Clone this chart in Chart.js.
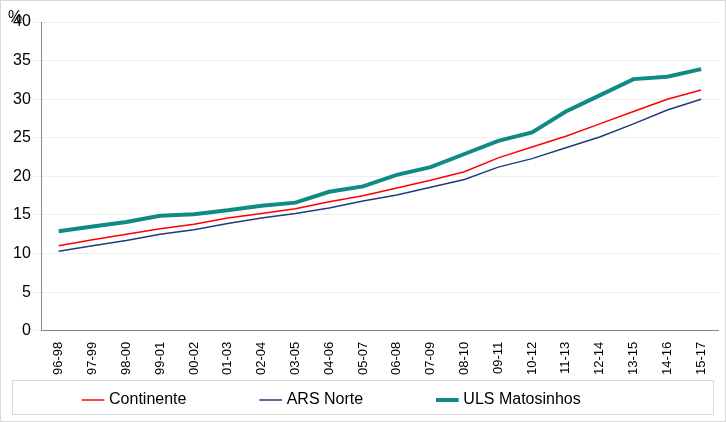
<!DOCTYPE html><html><head><script src="https://cdn.jsdelivr.net/npm/chart.js@4"></script>
<style>body{margin:0;background:#fff}#w{width:726px;height:422px}</style></head><body><div id="w"><canvas id="c"></canvas></div>
<script>
const categories=["96-98","97-99","98-00","99-01","00-02","01-03","02-04","03-05","04-06","05-07","06-08","07-09","08-10","09-11","10-12","11-13","12-14","13-15","14-16","15-17"];
const continente=[11.0,11.8,12.5,13.2,13.8,14.6,15.2,15.8,16.7,17.5,18.5,19.5,20.6,22.4,23.8,25.2,26.8,28.4,30.0,31.2];
const arsNorte=[10.3,11.0,11.7,12.5,13.1,13.9,14.6,15.2,15.9,16.8,17.6,18.6,19.6,21.2,22.3,23.7,25.1,26.8,28.6,30.0];
const uls=[12.9,13.5,14.1,14.9,15.1,15.6,16.2,16.6,18.0,18.7,20.2,21.2,22.9,24.6,25.7,28.4,30.5,32.6,32.9,33.9];
const deco={id:'deco',afterDraw(ch){const c=ch.ctx;c.save();c.strokeStyle='#d9d9d9';c.lineWidth=1;
c.strokeRect(0.5,0.5,ch.width-1,ch.height-1);const l=ch.legend;c.strokeRect(12.5,l.top+2.5,ch.width-25,l.height-6);
c.fillStyle='#000';c.font='16px Arial, Liberation Sans';c.textBaseline='top';c.fillText('%',8,10);c.restore();}};
new Chart(document.getElementById('c'),{type:'line',data:{labels:categories,datasets:[
{label:'Continente',data:continente,borderColor:'#ff0000',borderWidth:1.5,pointRadius:0,tension:0},
{label:'ARS Norte',data:arsNorte,borderColor:'#1f3c7a',borderWidth:1.5,pointRadius:0,tension:0},
{label:'ULS Matosinhos',data:uls,borderColor:'#108a84',borderWidth:4,pointRadius:0,tension:0}]},
options:{responsive:true,maintainAspectRatio:false,animation:false,layout:{padding:{top:22,right:8,left:10,bottom:4}},
plugins:{legend:{position:'bottom',labels:{usePointStyle:true,pointStyle:'line',boxWidth:45,padding:14,color:'#000',font:{size:16,family:'Arial, Liberation Sans'},
generateLabels(ch){return ch.data.datasets.map((d,i)=>({text:d.label+'              ',strokeStyle:d.borderColor,fillStyle:d.borderColor,lineWidth:d.borderWidth,pointStyle:'line',datasetIndex:i}));}}},tooltip:{enabled:false}},
scales:{x:{offset:true,grid:{display:false,drawTicks:true},border:{color:'#888'},ticks:{color:'#000',maxRotation:90,minRotation:90,font:{size:13,family:'Arial, Liberation Sans'}}},
y:{min:0,max:40,ticks:{stepSize:5,color:'#000',font:{size:16,family:'Arial, Liberation Sans'}},grid:{color:'#eeeeee'},border:{color:'#888'}}}},
plugins:[deco]});
</script></body></html>
